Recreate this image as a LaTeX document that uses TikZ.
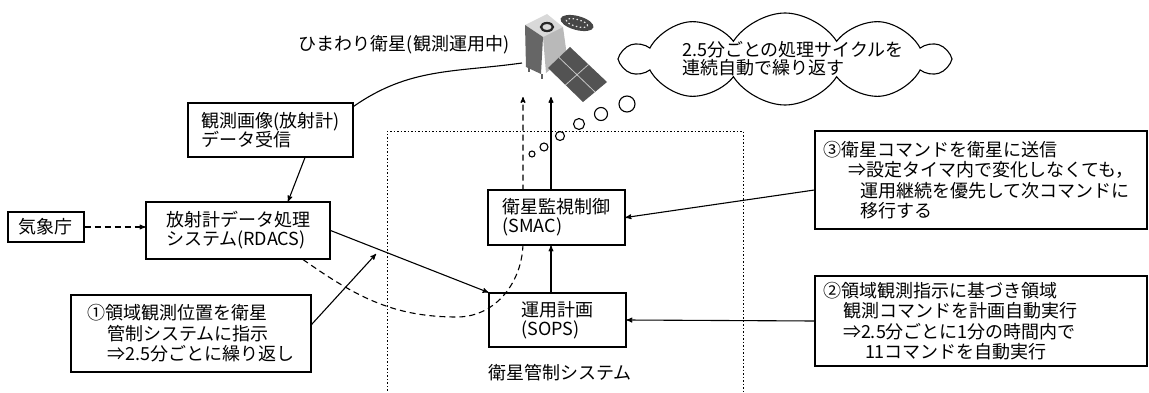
\documentclass[tikz,border=0pt]{standalone}
\usepackage{fontspec}
\setmainfont{Noto Sans CJK JP}
\usepackage{tikz}
\usetikzlibrary{arrows,shapes.symbols}

\begin{document}
\begin{tikzpicture}[x=1pt, y=1pt, >=stealth', line width=1.1pt,
                font=\fontsize{18}{19}\selectfont,
                box node/.style={draw, align=left, inner sep=0pt},
                note node/.style={draw, align=left, inner xsep=8pt, text width=316pt,
                  font=\fontsize{18}{20.5}\selectfont},
                frame line/.style={line width=0.9pt, dash pattern=on 1.5pt off 2pt},
                dash line/.style={dash pattern=on 6pt off 4pt}]

  \useasboundingbox (0,0) rectangle (1149,392);

  % satellite
  \fill[gray!30] (525,367) -- (547,378) -- (563,365) -- (543,355) -- cycle;
  \fill[gray!80!black] (525,367) -- (543,355) -- (541,318) -- (526,325) -- cycle;
  \fill[gray!55] (543,355) -- (563,365) -- (567,336) -- (546,319) -- cycle;
  \draw[gray!75!black, line width=1.5pt] (529,326) -- (529,320) (542,318) -- (542,313);
  \draw[gray!30!black, line width=2.2pt] (547,365) circle [x radius=6, y radius=4];
  \fill[gray!65!black] (548,324) -- (570,345) -- (607,310) -- (583,290) -- cycle;
  \draw[gray!45, line width=0.8pt] (559,334.5) -- (595,300) (588.5,327.5) -- (565.5,307);
  \fill[gray!55!black, rotate around={-15:(577,369)}] (577,369) ellipse [x radius=17, y radius=7];
  \draw[gray!20, line width=1.2pt, dash pattern=on 1.5pt off 2.5pt, rotate around={-15:(577,369)}]
        (577,369) ellipse [x radius=11, y radius=3.5];

  \coordinate (satA) at (522,329);
  \coordinate (satB) at (523,295);
  \coordinate (satC) at (551,295);
  \coordinate (hit) at (376,138);
  \coordinate (low) at (457,75);
  \coordinate (turn) at (523,150);

  \node (himawari) at (404,347) {ひまわり衛星(観測運用中)};

  % thought cloud
  \node[cloud, draw, cloud puffs=10, cloud puff arc=115, cloud ignores aspect,
        minimum width=324pt, minimum height=92pt, inner sep=0pt] (kumo) at (785,333) {};
  \node[align=left, font=\fontsize{18}{18}\selectfont] (kumotext) at (793,333)
        {2.5分ごとの処理サイクルを\\連続自動で繰り返す};
  \draw (627,288) circle [radius=8] (601,278) circle [radius=6.5]
        (579,268) circle [radius=5.5] (560,256) circle [radius=4.5]
        (544,245) circle [radius=4] (532,238) circle [radius=3];

  % ground side
  \draw[frame line] (387,-2) -- (387,261) -- (743,261) -- (743,-2);
  \node (kansei) at (560,19) {衛星管制システム};

  \node[box node, minimum width=165pt, minimum height=54pt] (kan) at (270.5,262)
        {観測画像(放射計)\\データ受信};
  \node[box node, minimum width=76pt, minimum height=30pt] (kisho) at (46,165) {気象庁};
  \node[box node, minimum width=184pt, minimum height=57pt] (rdacs) at (238,161.5)
        {放射計データ処理\\システム(RDACS)};
  \node[box node, minimum width=240pt, minimum height=77pt,
        font=\fontsize{18}{20.5}\selectfont] (shiji) at (191,58.5)
        {①領域観測位置を衛星\\
         \hspace*{20pt}管制システムに指示\\
         \hspace*{20pt}⇒2.5分ごとに繰り返し};
  \node[box node, minimum width=137pt, minimum height=54pt] (sops) at (557.5,72)
        {運用計画\\(SOPS)};
  \node[note node, minimum height=98pt] (soshin) at (981,212)
        {③衛星コマンドを衛星に送信\\
         \hspace*{25pt}⇒設定タイマ内で変化しなくても，\\
         \hspace*{37pt}運用継続を優先して次コマンドに\\
         \hspace*{37pt}移行する};
  \node[note node, minimum height=90pt] (keikaku) at (981,71)
        {②領域観測指示に基づき領域\\
         \hspace*{20pt}観測コマンドを計画自動実行\\
         \hspace*{20pt}⇒2.5分ごとに1分の時間内で\\
         \hspace*{42pt}11コマンドを自動実行};

  % dashed path behind the SMAC box
  \draw[->, dash line] ([xshift=65pt]rdacs.south) to[out=-35, in=180] (low)
        to[out=0, in=-90] (turn) -- (satB);

  \node[box node, fill=white, minimum width=137pt, minimum height=55pt] (smac) at (556.5,174.5)
        {衛星監視制御\\(SMAC)};

  \draw ([yshift=-4pt]kan.north east) to[out=35, in=188] (satA);
  \draw[->] ([xshift=34.5pt]kan.south) -- ([xshift=50pt]rdacs.north);
  \draw[->, dash line] (kisho.east) -- (kisho.east -| rdacs.west);
  \draw[->] (rdacs.east) -- (sops.north west);
  \draw[->] ([yshift=9pt]shiji.east) -- (hit);
  \draw[->] (sops.north -| satC) -- (smac.south -| satC);
  \draw[->] (smac.north -| satC) -- (satC);
  \draw[->] ([yshift=-10pt]soshin.west) -- (smac.east);
  \draw[->] (keikaku.west) -- (sops.east);
\end{tikzpicture}
\end{document}
